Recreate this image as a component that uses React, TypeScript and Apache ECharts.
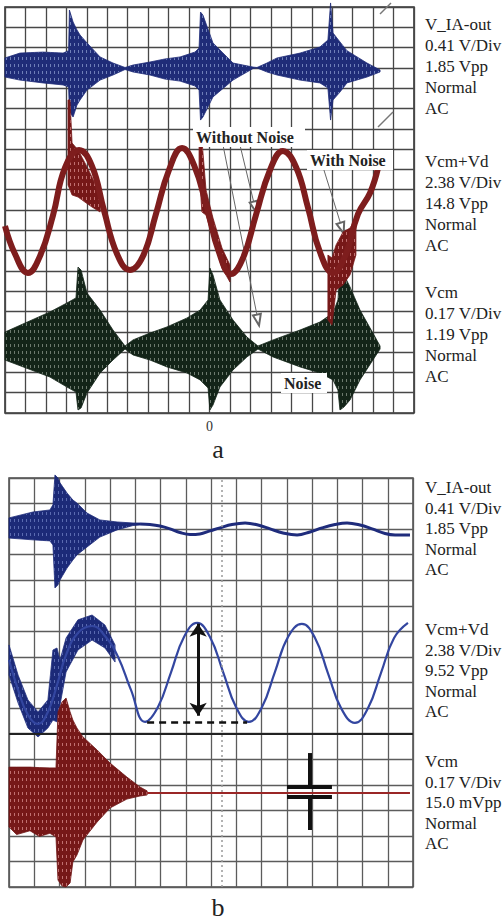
import React, { useEffect, useRef } from "react";
import * as echarts from "echarts";

const FONT = '"Liberation Serif","Times New Roman",serif';

// ---------- Panel a (x: divisions 0-20, y: divisions from bottom 0-20) ----------
// envelope rows: [x, upper, lower]
const blueA_env = [
  [0, 17.49, 16.55], [0.73, 17.73, 16.4], [1.86, 17.78, 16.26], [2.84, 17.73, 16.16],
  [3.11, 17.85, 16.06], [3.15, 19.85, 14.83], [3.33, 19.26, 14.58], [3.52, 18.87, 15.17],
  [3.67, 18.62, 15.42], [4.01, 18.23, 15.91], [4.65, 17.54, 16.4], [5.28, 17.24, 16.65],
  [5.87, 17.02, 16.92], [6.26, 17.14, 16.8], [7.09, 17.29, 16.65], [7.82, 17.44, 16.45],
  [8.56, 17.54, 16.35], [9.29, 17.78, 16.11], [9.49, 17.98, 15.91], [9.56, 19.75, 14.43],
  [9.68, 19.6, 14.58], [10.17, 18.23, 15.57], [11.15, 17.24, 16.4], [12.13, 17.04, 16.97],
  [12.32, 17.02, 17.0], [12.81, 17.24, 16.8], [13.3, 17.49, 16.65], [14.43, 17.73, 16.4],
  [15.4, 18.03, 16.26], [15.79, 18.37, 16.01], [15.92, 20.2, 14.43], [16.04, 18.72, 15.42],
  [16.38, 18.28, 15.81], [16.72, 17.85, 16.26], [17.7, 17.24, 16.55], [18.34, 16.9, 16.8],
];
const redA_line = [
  [0, 9.21], [0.49, 7.83], [1.12, 6.9], [1.71, 7.73], [2.35, 9.75], [2.93, 12.07],
  [3.62, 12.96], [4.25, 12.17], [4.84, 9.98], [5.48, 7.83], [6.11, 7.04], [6.75, 7.73],
  [7.38, 9.8], [8.02, 11.97], [8.66, 13.05], [9.24, 12.22], [9.88, 10.1], [10.46, 7.93],
  [11.05, 6.85], [11.64, 7.64], [12.27, 9.75], [12.96, 11.97], [13.59, 12.91], [14.23, 12.12],
  [14.82, 10.1], [15.4, 7.93], [16.04, 6.9], [16.63, 7.73], [17.26, 9.8], [17.85, 10.84],
  [18.24, 12.07],
];
const redA_noise1 = [
  [3.08, 15.42, 11.23], [3.18, 15.42, 10.99], [3.28, 13.3, 10.74], [3.57, 12.96, 10.64],
  [3.91, 12.32, 10.39], [4.25, 11.63, 10.15], [4.65, 10.74, 9.9],
];
const redA_noise2 = [
  [9.49, 13.2, 11.97], [9.63, 13.45, 9.9], [9.83, 10.99, 9.75], [10.17, 9.61, 8.62],
  [10.61, 8.13, 7.14], [11.0, 7.29, 6.45],
];
const redA_noise3 = [
  [15.79, 7.78, 4.58], [15.99, 7.64, 4.33], [16.19, 8.28, 6.06], [16.53, 8.92, 6.31],
  [16.87, 9.11, 6.8], [17.16, 9.61, 7.78],
];
const blackA_env = [
  [0, 3.99, 2.61], [2.2, 4.98, 1.77], [3.03, 5.42, 1.28], [3.47, 5.67, 1.03],
  [3.57, 7.19, 0.15], [3.72, 7.04, 0.25], [4.01, 5.91, 0.99], [4.65, 5.07, 1.97],
  [5.28, 4.09, 2.61], [5.87, 3.3, 3.15], [6.26, 3.6, 2.86], [7.09, 3.94, 2.61],
  [7.92, 4.24, 2.27], [8.9, 4.68, 1.97], [9.54, 5.07, 1.63], [9.93, 5.57, 1.23],
  [10.02, 7.14, 0.15], [10.17, 6.8, 0.39], [10.51, 5.57, 1.28], [11.15, 4.58, 2.12],
  [11.83, 3.74, 2.76], [12.37, 3.3, 3.15], [13.11, 3.6, 2.76], [14.43, 4.09, 2.27],
  [15.4, 4.48, 1.97], [16.04, 4.93, 1.63], [16.28, 5.57, 1.13], [16.38, 7.04, 0.15],
  [16.58, 6.8, 0.3], [16.87, 6.21, 0.64], [17.36, 5.07, 1.63], [17.99, 3.94, 2.61],
  [18.34, 3.3, 3.15],
];
const arrowsA = [
  [[10.66, 13.2], [12.37, 4.58]],
  [[11.49, 13.2], [12.22, 10.15]],
  [[15.55, 12.12], [16.48, 9.11]],
];

// ---------- Panel b (x: divisions 0-16, y: divisions from bottom 0-16) ----------
const blueB_env = [
  [0, 14.44, 13.65], [0.95, 14.67, 13.58], [1.62, 14.75, 13.54], [1.74, 14.95, 13.38],
  [1.82, 16.12, 11.7], [1.94, 16.0, 11.82], [2.02, 15.81, 12.01], [2.3, 15.41, 12.48],
  [2.53, 15.14, 12.79], [2.69, 15.02, 12.99], [3.09, 14.63, 13.3], [3.6, 14.36, 13.69],
  [4.28, 14.28, 13.97], [4.91, 14.24, 14.14], [5.19, 14.24, 14.16],
];
const blueB_line = [
  [5.19, 14.2], [5.58, 14.18], [5.98, 14.12], [6.38, 14.01], [6.77, 13.87], [7.17, 13.79],
  [7.56, 13.81], [7.96, 13.93], [8.36, 14.05], [8.83, 14.18], [9.35, 14.24], [9.86, 14.16],
  [10.34, 14.01], [10.85, 13.85], [11.41, 13.77], [11.92, 13.89], [12.4, 14.05], [12.91, 14.18],
  [13.39, 14.24], [13.9, 14.16], [14.38, 14.01], [14.89, 13.83], [15.29, 13.77], [15.88, 13.77],
];
const blueB_sine = [
  [0, 8.88], [0.36, 7.71], [0.75, 6.73], [1.15, 6.38], [1.54, 6.85], [1.9, 7.9], [2.26, 9.08],
  [2.73, 9.94], [3.29, 10.21], [3.8, 9.82], [4.32, 9.0], [4.83, 7.71], [5.39, 6.46], [5.9, 7.04],
  [6.42, 8.41], [6.93, 9.78], [7.45, 10.33], [7.96, 9.78], [8.48, 8.41], [8.99, 7.04], [9.5, 6.46],
  [10.02, 7.04], [10.53, 8.41], [11.05, 9.78], [11.6, 10.29], [12.12, 9.74], [12.63, 8.37],
  [13.15, 7.0], [13.7, 6.42], [14.22, 7.0], [14.73, 8.37], [15.25, 9.74], [15.8, 10.33],
];
const blueB_noise = [
  [0, 9.47, 8.29], [0.36, 8.29, 7.2], [0.75, 7.32, 6.22], [1.15, 6.85, 5.87], [1.54, 7.32, 6.22],
  [1.74, 9.27, 6.53], [1.9, 9.35, 6.46], [2.02, 8.88, 7.12], [2.26, 9.74, 8.41], [2.73, 10.45, 9.27],
  [3.29, 10.64, 9.66], [3.8, 10.25, 9.35], [4.2, 9.47, 8.8],
];
const redB_env = [
  [0, 4.69, 2.35], [0.3, 4.69, 2.05], [0.83, 4.69, 2.2], [1.2, 4.67, 1.98], [1.62, 4.66, 2.1],
  [1.86, 4.66, 1.96], [1.94, 6.85, 0.27], [2.1, 7.24, 0.04], [2.26, 7.39, 0], [2.42, 6.85, 0.16],
  [2.53, 6.53, 0.98], [2.69, 6.22, 1.25], [2.93, 5.87, 1.84], [3.49, 5.36, 2.54], [4.0, 4.85, 3.09],
  [4.67, 4.3, 3.44], [5.19, 3.91, 3.56], [5.47, 3.76, 3.6],
];
const redB_line = [[5.47, 3.68], [15.88, 3.68]];
const ppArrow = [[7.49, 10.3], [7.49, 6.7]];
const ppDash = [[5.47, 6.46], [9.43, 6.46]];
const cursorSegs = [
  [[11.01, 3.91], [12.79, 3.91]],
  [[11.01, 3.52], [12.79, 3.52]],
  [[11.92, 5.24], [11.92, 3.91]],
  [[11.92, 3.52], [11.92, 2.23]],
];
const thickLineB = 6;
const dottedXB = 8.44;

// ---------- Texts ----------
const labelsA = [
  ["V_IA-out", "0.41 V/Div", "1.85 Vpp", "Normal", "AC"],
  ["Vcm+Vd", "2.38 V/Div", "14.8 Vpp", "Normal", "AC"],
  ["Vcm", "0.17 V/Div", "1.19 Vpp", "Normal", "AC"],
];
const labelsB = [
  ["V_IA-out", "0.41 V/Div", "1.85 Vpp", "Normal", "AC"],
  ["Vcm+Vd", "2.38 V/Div", "9.52 Vpp", "Normal", "AC"],
  ["Vcm", "0.17 V/Div", "15.0 mVpp", "Normal", "AC"],
];
const zeroTick = 10;

function makePattern(base: string, speck: string): any {
  const c = document.createElement("canvas");
  c.width = 4;
  c.height = 7;
  const ctx = c.getContext("2d");
  if (!ctx) return base;
  ctx.fillStyle = base;
  ctx.fillRect(0, 0, 4, 7);
  ctx.fillStyle = speck;
  ctx.fillRect(2, 1, 1, 3);
  return { image: c, repeat: "repeat" };
}

function envSeries(name: string, data: number[][], color: string, fill: any, idx: number, z: number) {
  return {
    type: "custom",
    name,
    xAxisIndex: idx,
    yAxisIndex: idx,
    z,
    silent: true,
    data,
    encode: { x: 0, y: [1, 2] },
    renderItem: (params: any, api: any) => {
      if (params.dataIndex !== 0) return null;
      const up = data.map((p) => api.coord([p[0], p[1]]));
      const lo = data.slice().reverse().map((p) => api.coord([p[0], p[2]]));
      return {
        type: "polygon",
        shape: { points: up.concat(lo) },
        style: { fill, stroke: color, lineWidth: 0.8 },
      };
    },
  };
}

function axis(gridIndex: number, max: number, color: string, label: boolean) {
  return {
    type: "value",
    gridIndex,
    min: 0,
    max,
    interval: 1,
    axisLine: { show: false },
    axisTick: { show: false },
    axisLabel: label
      ? {
          show: true,
          interval: 0,
          margin: 6,
          fontFamily: FONT,
          fontSize: 14,
          color: "#333",
          formatter: (v: number) => (v === zeroTick ? "0" : ""),
        }
      : { show: false },
    splitLine: { show: true, lineStyle: { color, width: 1.3 } },
  };
}

export default function App() {
  const ref = useRef<HTMLDivElement>(null);
  useEffect(() => {
    if (!ref.current) return;
    const chart = echarts.init(ref.current, null, { renderer: "svg" });
    const seg = (a: number[], b: number[], extra: any = {}) => [
      { coord: a, ...extra },
      { coord: b },
    ];
    const graphic: any[] = [];
    const addLabels = (groups: string[][], tops: number[], lh: number) => {
      groups.forEach((g, i) => {
        graphic.push({
          type: "text",
          left: 425,
          top: tops[i],
          z: 50,
          style: { text: g.join("\n"), font: `17px ${FONT}`, lineHeight: lh, fill: "#222" },
        });
      });
    };
    addLabels(labelsA, [13.5, 150.5, 281.5], 21);
    addLabels(labelsB, [477.5, 619.5, 751.5], 20.5);
    const boxText = (text: string, x: number, y: number, w: number) => {
      graphic.push({
        type: "rect",
        z: 50,
        shape: { x: x - 3, y: y - 10, width: w, height: 20 },
        style: { fill: "#fff" },
      });
      graphic.push({
        type: "text",
        z: 51,
        x,
        y,
        style: { text, font: `bold 16px ${FONT}`, fill: "#222", verticalAlign: "middle", align: "left" },
      });
    };
    boxText("Without Noise", 196, 137, 112);
    boxText("With Noise", 310, 160, 86);
    boxText("Noise", 284, 383, 46);
    graphic.push({ type: "line", z: 40, shape: { x1: 380, y1: 14, x2: 391, y2: 3 }, style: { stroke: "#777", lineWidth: 1.5 } });
    graphic.push({ type: "line", z: 40, shape: { x1: 378, y1: 127, x2: 393, y2: 112 }, style: { stroke: "#777", lineWidth: 1.5 } });
    graphic.push({ type: "text", x: 218, y: 449, z: 50, style: { text: "a", font: `26px ${FONT}`, fill: "#222", align: "center", verticalAlign: "middle" } });
    graphic.push({ type: "text", x: 218, y: 907, z: 50, style: { text: "b", font: `26px ${FONT}`, fill: "#222", align: "center", verticalAlign: "middle" } });

    const blueFill = makePattern("#1f2c78", "#6f7fb8");
    const blackFill = makePattern("#132418", "#6d7a6e");
    const redFill = makePattern("#761818", "#c07070");
    const blueBFill = makePattern("#1c2a78", "#5a6ab0");

    const option: any = {
      animation: false,
      backgroundColor: "#fff",
      grid: [
        { left: 5, top: 7, width: 409, height: 406, show: true, borderColor: "#333", borderWidth: 1.6, backgroundColor: "#fff" },
        { left: 9, top: 478, width: 404, height: 409, show: true, borderColor: "#4a4a4a", borderWidth: 1.5, backgroundColor: "#fff" },
      ],
      xAxis: [axis(0, 20, "#474747", true), axis(1, 16, "#5c5c5c", false)],
      yAxis: [axis(0, 20, "#474747", false), axis(1, 16, "#5c5c5c", false)],
      series: [
        envSeries("V_IA-out a", blueA_env, "#1f2c78", blueFill, 0, 3),
        envSeries("Vcm a", blackA_env, "#132418", blackFill, 0, 4),
        envSeries("Vcm+Vd a noise 1", redA_noise1, "#781a1a", redFill, 0, 5),
        envSeries("Vcm+Vd a noise 2", redA_noise2, "#781a1a", redFill, 0, 5),
        envSeries("Vcm+Vd a noise 3", redA_noise3, "#781a1a", redFill, 0, 5),
        {
          type: "line",
          name: "Vcm+Vd a",
          xAxisIndex: 0,
          yAxisIndex: 0,
          z: 5,
          data: redA_line,
          smooth: 0.45,
          showSymbol: false,
          silent: true,
          lineStyle: { color: "#7e1d1d", width: 6 },
          markLine: {
            silent: true,
            symbol: ["none", "emptyTriangle"],
            symbolSize: [8, 11],
            label: { show: false },
            lineStyle: { color: "#666", width: 1, type: "solid" },
            data: arrowsA.map((a) => seg(a[0], a[1])),
          },
        },
        envSeries("V_IA-out b", blueB_env, "#1c2a78", blueBFill, 1, 3),
        {
          type: "line",
          name: "V_IA-out b line",
          xAxisIndex: 1,
          yAxisIndex: 1,
          z: 3,
          data: blueB_line,
          smooth: 0.4,
          showSymbol: false,
          silent: true,
          lineStyle: { color: "#1f2c7c", width: 3 },
        },
        envSeries("Vcm+Vd b noise", blueB_noise, "#22307e", blueBFill, 1, 4),
        {
          type: "line",
          name: "Vcm+Vd b",
          xAxisIndex: 1,
          yAxisIndex: 1,
          z: 4,
          data: blueB_sine,
          smooth: 0.45,
          showSymbol: false,
          silent: true,
          lineStyle: { color: "#3346a0", width: 2.2 },
        },
        envSeries("Vcm b", redB_env, "#701616", redFill, 1, 5),
        {
          type: "line",
          name: "Vcm b line",
          xAxisIndex: 1,
          yAxisIndex: 1,
          z: 5,
          data: redB_line,
          showSymbol: false,
          silent: true,
          lineStyle: { color: "#9a2626", width: 2 },
          markLine: {
            silent: true,
            symbol: "none",
            label: { show: false },
            data: [
              { yAxis: thickLineB, lineStyle: { color: "#222", width: 2, type: "solid" } },
              { xAxis: dottedXB, lineStyle: { color: "#999", width: 1.5, type: [2, 3] } },
              seg(ppArrow[0], ppArrow[1], { lineStyle: { color: "#111", width: 3, type: "solid" } }),
              seg(ppDash[0], ppDash[1], { lineStyle: { color: "#111", width: 2.5, type: [7, 5] } }),
              ...cursorSegs.map((s) => seg(s[0], s[1], { lineStyle: { color: "#111", width: 4, type: "solid" } })),
            ],
          },
        },
      ],
      graphic,
    };
    const ml = option.series[option.series.length - 1].markLine;
    ml.data[2][0].symbol = "arrow";
    ml.data[2][1].symbol = "arrow";
    ml.data[2][0].symbolSize = 13;
    ml.data[2][1].symbolSize = 13;
    chart.setOption(option);
    return () => chart.dispose();
  }, []);
  return (
    <div
      ref={ref}
      style={{ position: "absolute", left: 0, top: 0, width: 503, height: 922, background: "#fff" }}
    />
  );
}
